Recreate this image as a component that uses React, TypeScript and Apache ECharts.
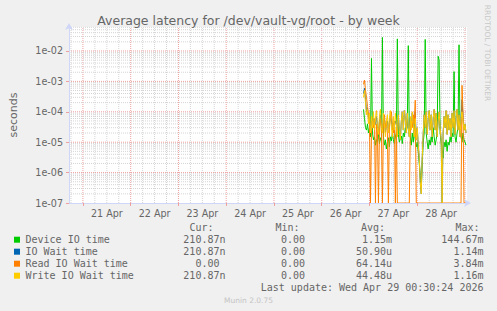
import React, { useEffect, useRef } from 'react';
import * as echarts from 'echarts';

// ---- time frame ----
const X_START = Date.UTC(2026, 3, 20, 17, 0);
const X_END = Date.UTC(2026, 3, 29, 1, 0);
const DATA_START = Date.UTC(2026, 3, 26, 21, 0);
const STEP = 30 * 60000;

// ---- tick labels ----
const xTickLabels = ['21 Apr', '22 Apr', '23 Apr', '24 Apr', '25 Apr', '26 Apr', '27 Apr', '28 Apr'];
const xTickValues = [21, 22, 23, 24, 25, 26, 27, 28].map((d) => Date.UTC(2026, 3, d, 12, 0));
const yTickLabels = ['1e-07', '1e-06', '1e-05', '1e-04', '1e-03', '1e-02'];
const yTickValues = [1e-7, 1e-6, 1e-5, 1e-4, 1e-3, 1e-2];
const Y_MIN = 1e-7;
const Y_MAX = 0.0615;

// ---- series values (seconds), one point per 30 min from 26 Apr 21:00 ----
const deviceIO = [
  1.2e-4, 6e-5, 3e-5, 2.5e-5, 4e-5, 2e-5, 3e-5, 1.5e-5, 5.7e-3, 2e-5,
  1.2e-5, 1.5e-5, 8e-6, 1.2e-5, 1e-5, 2e-5, 9e-6, 1.4e-5, 1.1e-5, 2.8e-2,
  1.5e-5, 8e-6, 1.2e-5, 6e-6, 1e-5, 1.4e-5, 7e-6, 1.5e-5, 1.1e-5, 2e-5,
  1.2e-5, 9e-6, 1.5e-5, 2e-5, 2.5e-2, 1.8e-5, 1e-5, 1.3e-5, 1.6e-5, 9e-6,
  2e-5, 1.5e-5, 3e-5, 2e-5, 4e-5, 1.5e-2, 3e-5, 1.5e-5, 8e-6, 2e-5,
  1e-5, 2.5e-5, 1.2e-5, 7e-6, 1e-5, 5e-6, 2e-6, 8e-7, 3e-7, 2e-6,
  1e-5, 2e-5, 2.4e-2, 2e-5, 1e-5, 6e-6, 1.2e-5, 8e-6, 1.5e-5, 1e-5,
  3e-5, 1.5e-5, 8e-6, 1.2e-5, 2e-5, 6.7e-3, 5e-3, 2e-5, 1e-5, 6e-6,
  3e-6, 1e-5, 7e-6, 1.2e-5, 5e-6, 1e-5, 8e-6, 1.5e-5, 1e-5, 2e-5,
  1.5e-5, 2.1e-3, 1.5e-5, 1e-5, 2e-5, 3e-5, 1.6e-2, 2e-5, 1.5e-5, 1e-5,
  2e-5, 1.2e-5, 1e-5, 8e-6,
];
const ioWait = [
  4e-4, 6e-4, 2.5e-4, 1e-4, 1.3e-4, 6e-5, 7e-5, 3e-5, 5e-5, 4e-5,
  6e-5, 3.5e-5, 4e-5, 7e-5, 3.5e-5, 2e-5, 5e-5, 8e-5, 3.5e-5, 2.5e-5,
  6e-5, 5.5e-5, 2e-5, 4e-5, 5e-5, 2.5e-5, 4.5e-5, 7.5e-5, 5e-5, 2.5e-5,
  4.5e-5, 3.5e-5, 5e-5, 4e-5, 1.8e-5, 8e-5, 2.5e-5, 1.2e-5, 5e-5, 1e-4,
  2.5e-5, 1.1e-4, 6e-5, 2e-5, 9e-5, 3e-5, 1.5e-5, 6.5e-5, 3e-5, 9e-5,
  5e-5, 2e-5, 1e-4, 1.2e-5, 3e-5, 8e-6, 3e-6, 5e-7, 2e-7, 3e-6,
  2e-5, 8e-5, 3e-5, 1e-4, 1.8e-5, 6e-5, 1.1e-4, 2.5e-5, 8e-5, 1.5e-5,
  6e-5, 1.2e-4, 2.5e-5, 9e-5, 1.5e-5, 5e-5, 1e-4, 3e-5, 1.2e-5, 0,
  2e-5, 7e-5, 3e-5, 1.1e-4, 1.8e-5, 8e-5, 2.5e-5, 6e-5, 1.5e-5, 9e-5,
  3e-5, 1.1e-4, 1.8e-5, 6e-5, 1.2e-4, 2.5e-5, 8e-5, 1.5e-5, 6e-5, 2.5e-4,
  6e-5, 2.5e-5, 4e-5, 2e-5,
];
const readIO = [
  8e-4, 1.1e-3, 5e-4, 3e-4, 1.5e-4, 8e-5, 4e-5, 0, 2e-5, 5e-5,
  3e-5, 6e-5, 0, 4e-5, 2e-5, 0, 3e-5, 6e-5, 2e-5, 0,
  4e-5, 8e-5, 3e-5, 5e-5, 2e-5, 0, 3e-5, 6e-5, 1e-4, 4e-5,
  2e-5, 5e-5, 0, 3e-5, 0, 0, 0, 0, 0, 0,
  0, 0, 0, 0, 0, 0, 0, 2e-5, 5e-5, 3e-5,
  8e-5, 4e-5, 2.4e-4, 0, 0, 0, 0, 0, 0, 0,
  0, 0, 0, 0, 0, 0, 0, 0, 0, 0,
  0, 0, 0, 0, 0, 0, 0, 0, 0, 0,
  0, 0, 0, 0, 0, 0, 0, 0, 0, 0,
  0, 0, 0, 0, 0, 0, 0, 0, 0, 7.4e-4,
  1e-4, 0, 0, 0,
];
const writeIO = [
  3e-4, 5e-4, 2e-4, 8e-5, 1.2e-4, 4e-5, 9e-5, 2e-5, 7e-5, 3e-5,
  1e-4, 2.5e-5, 6e-5, 1.1e-4, 3e-5, 1.8e-5, 7e-5, 1.2e-4, 3e-5, 2e-5,
  9e-5, 4e-5, 1.5e-5, 5e-5, 8e-5, 2e-5, 6e-5, 1.1e-4, 3e-5, 1.5e-5,
  7e-5, 2.5e-5, 9e-5, 4e-5, 1.5e-5, 8e-5, 2.5e-5, 1.2e-5, 5e-5, 1e-4,
  2.5e-5, 1.1e-4, 6e-5, 2e-5, 9e-5, 3e-5, 1.5e-5, 7e-5, 2.5e-5, 1e-4,
  4e-5, 1.5e-5, 6e-5, 1.2e-5, 3e-5, 8e-6, 3e-6, 5e-7, 2e-7, 3e-6,
  2e-5, 8e-5, 3e-5, 1e-4, 1.8e-5, 6e-5, 1.1e-4, 2.5e-5, 8e-5, 1.5e-5,
  6e-5, 1.2e-4, 2.5e-5, 9e-5, 1.5e-5, 5e-5, 1e-4, 3e-5, 1.2e-5, 0,
  2e-5, 7e-5, 3e-5, 1.1e-4, 1.8e-5, 8e-5, 2.5e-5, 6e-5, 1.5e-5, 9e-5,
  3e-5, 1.1e-4, 1.8e-5, 6e-5, 1.2e-4, 2.5e-5, 8e-5, 1.5e-5, 6e-5, 1e-4,
  5e-5, 2.5e-5, 4e-5, 2e-5,
];

// ---- legend ----
const legendNames = ['Device IO time', 'IO Wait time', 'Read IO Wait time', 'Write IO Wait time'];
const legendColors = ['#00CC00', '#0066B3', '#FF8000', '#FFCC00'];
const curVals = ['210.87n', '210.87n', '0.00', '210.87n'];
const minVals = ['0.00', '0.00', '0.00', '0.00'];
const avgVals = ['1.15m', '50.90u', '64.14u', '44.48u'];
const maxVals = ['144.67m', '1.14m', '3.84m', '1.16m'];
const legendHeaders = ['Cur:', 'Min:', 'Avg:', 'Max:'];
const lastUpdate = 'Last update: Wed Apr 29 00:30:24 2026';
const titleText = 'Average latency for /dev/vault-vg/root - by week';

const FONT = '#666666';
const MONO = '"DejaVu Sans Mono", monospace';
const SANS = '"DejaVu Sans", sans-serif';
const MINOR = '#d4d4d4';
const MAJOR = '#eea0a0';

function toSeries(vals: number[]) {
  return vals.map((v, i) => [DATA_START + i * STEP, v === 0 ? Y_MIN : v]);
}

function gridSeries(points: number[][], color: string) {
  return {
    type: 'line',
    data: points,
    symbol: 'none',
    showSymbol: false,
    silent: true,
    clip: true,
    z: 1,
    lineStyle: { color, width: 1, type: [1, 1] },
    emphasis: { disabled: true },
    tooltip: { show: false },
  };
}

function buildOption() {
  const grids: any[] = [];
  for (let t = Date.UTC(2026, 3, 20, 18); t < X_END; t += 6 * 3600000) {
    const midnight = new Date(t).getUTCHours() === 0;
    grids.push(gridSeries([[t, Y_MIN], [t, Y_MAX]], midnight ? MAJOR : MINOR));
  }
  for (let k = -7; k <= -2; k++) {
    for (let m = 1; m <= 9; m++) {
      const v = m * Math.pow(10, k);
      if (v > Y_MAX || (k === -7 && m === 1)) continue;
      grids.push(gridSeries([[X_START, v], [X_END, v]], m === 1 ? MAJOR : MINOR));
    }
  }

  const colRight = [225.5, 311, 392, 483.5];
  const headerX = [189.5, 275.5, 361, 455.5];
  const rowY0 = 239.7;
  const rowH = 12;
  const cols = [curVals, minVals, avgVals, maxVals];
  const txt = (text: string, x: number, y: number, align: string, extra: any = {}) => ({
    type: 'text', x, y, ...extra,
    style: { text, fill: FONT, fontFamily: MONO, fontSize: 10, align, verticalAlign: 'middle', textAlign: align, textVerticalAlign: 'middle', ...(extra.style || {}) },
  });
  const graphics: any[] = [];
  legendHeaders.forEach((h, c) => graphics.push(txt(h, headerX[c], rowY0 - rowH, 'left')));
  legendNames.forEach((name, r) => {
    const y = rowY0 + r * rowH;
    graphics.push({ type: 'rect', shape: { x: 14, y: y - 3, width: 6, height: 6 }, style: { fill: legendColors[r] } });
    graphics.push(txt(name, 25.5, y, 'left'));
    cols.forEach((col, c) => {
      const s = col[r];
      const hasUnit = /[a-zA-Z]$/.test(s);
      graphics.push(txt(s, colRight[c] - (hasUnit ? 0 : 6.02), y, 'right'));
    });
  });
  graphics.push(txt(lastUpdate, 483.5, rowY0 + 4 * rowH, 'right'));
  graphics.push({
    type: 'text', x: 248.5, y: 300.5,
    style: { text: 'Munin 2.0.75', fill: '#c4c4c4', fontFamily: SANS, fontSize: 7.5, align: 'center', verticalAlign: 'middle', textAlign: 'center', textVerticalAlign: 'middle' },
  });
  graphics.push({
    type: 'text', x: 487.5, y: 53, rotation: -Math.PI / 2,
    style: { text: 'RRDTOOL / TOBI OETIKER', fill: '#c8c8c8', fontFamily: SANS, fontSize: 7.5, align: 'center', verticalAlign: 'middle', textAlign: 'center', textVerticalAlign: 'middle' },
  });

  const lineSeries = [deviceIO, ioWait, readIO, writeIO].map((vals, i) => ({
    type: 'line',
    name: legendNames[i],
    data: toSeries(vals),
    showSymbol: false,
    symbol: 'none',
    clip: true,
    z: 3,
    lineStyle: { color: legendColors[i], width: 1 },
    itemStyle: { color: legendColors[i] },
    emphasis: { disabled: true },
  }));

  return {
    animation: false,
    backgroundColor: '#F0F0F0',
    title: {
      text: titleText,
      left: 'center',
      top: 9,
      textStyle: { fontFamily: SANS, fontSize: 12.5, fontWeight: 'normal', color: FONT },
    },
    grid: { left: 67, top: 27, width: 400, height: 176, show: true, backgroundColor: '#FFFFFF', borderWidth: 0 },
    xAxis: {
      type: 'value',
      min: X_START,
      max: X_END,
      z: 5,
      axisLine: { show: true, lineStyle: { color: '#CFD6F8', width: 1 }, symbol: ['none', 'arrow'], symbolSize: [6, 7], symbolOffset: [0, 4] },
      axisTick: { show: true, customValues: xTickValues.map((v) => v - 12 * 3600000), length: 3, lineStyle: { color: MAJOR } },
      axisLabel: {
        customValues: xTickValues,
        margin: 5,
        color: FONT,
        fontFamily: SANS,
        fontSize: 9.6,
        formatter: (v: number) => {
          const idx = xTickValues.findIndex((t) => Math.abs(t - v) < 60000);
          return idx >= 0 ? xTickLabels[idx] : '';
        },
      },
      splitLine: { show: false },
    },
    yAxis: {
      type: 'log',
      logBase: 10,
      min: Y_MIN,
      max: Y_MAX,
      interval: 1,
      z: 5,
      name: 'seconds',
      nameLocation: 'middle',
      nameGap: 50,
      nameRotate: 90,
      nameTextStyle: { color: FONT, fontFamily: SANS, fontSize: 11 },
      axisLine: { show: true, lineStyle: { color: '#CFD6F8', width: 1 }, symbol: ['none', 'arrow'], symbolSize: [6, 7], symbolOffset: [0, 4] },
      axisTick: { show: true, length: 3, lineStyle: { color: MAJOR } },
      axisLabel: {
        margin: 6,
        color: FONT,
        fontFamily: SANS,
        fontSize: 9.6,
        showMaxLabel: false,
        formatter: (v: number) => {
          const idx = yTickValues.findIndex((t) => Math.abs(Math.log10(t) - Math.log10(v)) < 0.01);
          return idx >= 0 ? yTickLabels[idx] : '';
        },
      },
      splitLine: { show: false },
    },
    graphic: graphics,
    series: [...grids, ...lineSeries],
  };
}

export default function App() {
  const ref = useRef<HTMLDivElement>(null);
  useEffect(() => {
    document.body.style.margin = '0';
    if (!ref.current) return;
    const chart = echarts.init(ref.current, null, { renderer: 'svg', width: 497, height: 311 });
    chart.setOption(buildOption() as any);
    return () => chart.dispose();
  }, []);
  return <div ref={ref} style={{ width: 497, height: 311 }} />;
}
